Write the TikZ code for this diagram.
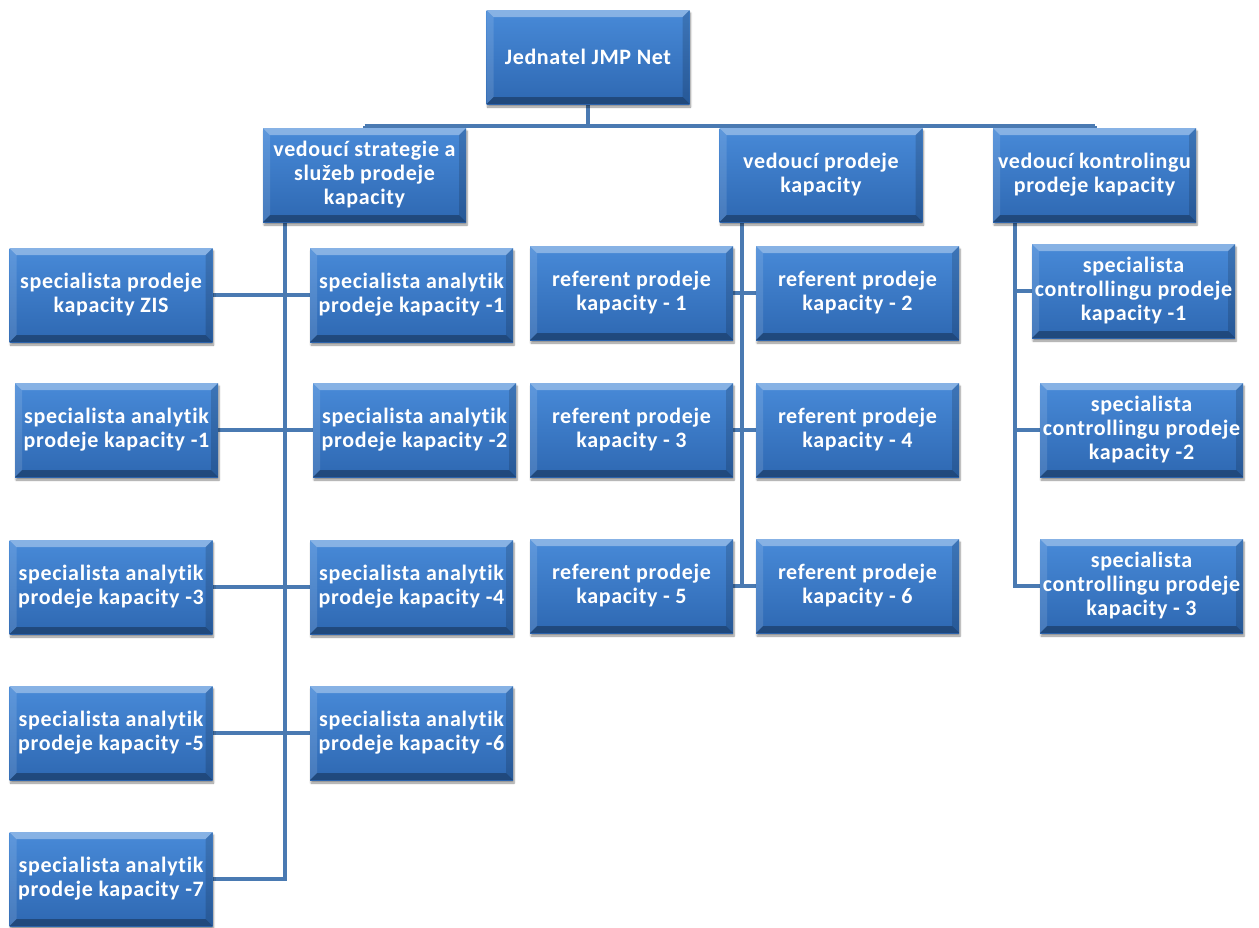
\documentclass[tikz,border=0pt]{standalone}
\usepackage{fontspec}
\setmainfont{Carlito}[LetterSpace=3,Ligatures=NoCommon]
\usetikzlibrary{shadows.blur,backgrounds}
\definecolor{boxtop}{RGB}{72,138,216}
\definecolor{boxbot}{RGB}{46,104,178}
\definecolor{linecol}{RGB}{74,122,178}
\tikzset{
  orgbox/.style={rectangle, minimum width=203pt, minimum height=94pt, inner sep=2pt,
    align=center, text=white, font=\fontsize{22}{24}\selectfont\bfseries,
    top color=boxtop, bottom color=boxbot,
    blur shadow={shadow xshift=1pt, shadow yshift=-3pt, shadow blur steps=6, shadow opacity=45},
    path picture={
      \fill[white,opacity=0.35] (path picture bounding box.north west) -- (path picture bounding box.north east)
        -- ([xshift=-7pt,yshift=-7pt]path picture bounding box.north east) -- ([xshift=7pt,yshift=-7pt]path picture bounding box.north west) -- cycle;
      \fill[white,opacity=0.12] (path picture bounding box.north west) -- (path picture bounding box.south west)
        -- ([xshift=7pt,yshift=7pt]path picture bounding box.south west) -- ([xshift=7pt,yshift=-7pt]path picture bounding box.north west) -- cycle;
      \fill[black,opacity=0.3] (path picture bounding box.south west) -- (path picture bounding box.south east)
        -- ([xshift=-7pt,yshift=7pt]path picture bounding box.south east) -- ([xshift=7pt,yshift=7pt]path picture bounding box.south west) -- cycle;
      \fill[black,opacity=0.15] (path picture bounding box.north east) -- (path picture bounding box.south east)
        -- ([xshift=-7pt,yshift=7pt]path picture bounding box.south east) -- ([xshift=-7pt,yshift=-7pt]path picture bounding box.north east) -- cycle;
    }},
  conn/.style={draw=linecol, line width=4pt, line join=miter}
}
\begin{document}
\begin{tikzpicture}[x=1pt,y=-1pt]
\useasboundingbox (0,0) rectangle (1259,927);
% top and heads
\node[orgbox] (top) at (588,57) {Jednatel JMP Net};
\node[orgbox] (h1) at (364.5,175) {vedoucí strategie a\\služeb prodeje\\kapacity};
\node[orgbox] (h2) at (821,175) {vedoucí prodeje\\kapacity};
\node[orgbox] (h3) at (1094.5,175) {vedoucí kontrolingu\\prodeje kapacity};
% left group
\node[orgbox] (l1) at (111,295) {specialista prodeje\\kapacity ZIS};
\node[orgbox] (r1) at (411.5,295) {specialista analytik\\prodeje kapacity -1};
\node[orgbox] (l2) at (116.5,430) {specialista analytik\\prodeje kapacity -1};
\node[orgbox] (r2) at (414.5,430) {specialista analytik\\prodeje kapacity -2};
\node[orgbox] (l3) at (111,587) {specialista analytik\\prodeje kapacity -3};
\node[orgbox] (r3) at (411.5,587) {specialista analytik\\prodeje kapacity -4};
\node[orgbox] (l4) at (111,733) {specialista analytik\\prodeje kapacity -5};
\node[orgbox] (r4) at (411.5,733) {specialista analytik\\prodeje kapacity -6};
\node[orgbox] (l5) at (111,879) {specialista analytik\\prodeje kapacity -7};
% middle group
\node[orgbox] (m1) at (631.5,293) {referent prodeje\\kapacity - 1};
\node[orgbox] (m2) at (857.5,293) {referent prodeje\\kapacity - 2};
\node[orgbox] (m3) at (631.5,430) {referent prodeje\\kapacity - 3};
\node[orgbox] (m4) at (857.5,430) {referent prodeje\\kapacity - 4};
\node[orgbox] (m5) at (631.5,586) {referent prodeje\\kapacity - 5};
\node[orgbox] (m6) at (857.5,586) {referent prodeje\\kapacity - 6};
% right group
\node[orgbox] (c1) at (1133.5,291) {specialista\\controllingu prodeje\\kapacity -1};
\node[orgbox] (c2) at (1141.5,430) {specialista\\controllingu prodeje\\kapacity -2};
\node[orgbox] (c3) at (1141.5,586) {specialista\\controllingu prodeje\\kapacity - 3};
% connector anchor points
\coordinate (bus) at (588,126);
\coordinate (sL) at (285,222);
\coordinate (sM) at (742,222);
\coordinate (sR) at (1015,222);
\begin{scope}[on background layer]
\draw[conn] (top.south) -- (bus);
\draw[conn] (h1.north |- bus) -- (h3.north |- bus);
\draw[conn] (h1.north |- bus) -- (h1.north);
\draw[conn] (h2.north |- bus) -- (h2.north);
\draw[conn] (h3.north |- bus) -- (h3.north);
% left
\draw[conn] (sL) |- (l5.east);
\draw[conn] (l1.east) -- (r1.west);
\draw[conn] (l2.east) -- (r2.west);
\draw[conn] (l3.east) -- (r3.west);
\draw[conn] (l4.east) -- (r4.west);
% middle
\draw[conn] (sM) -- (sM |- m5.east);
\draw[conn] (m1.east) -- (m2.west);
\draw[conn] (m3.east) -- (m4.west);
\draw[conn] (m5.east) -- (m6.west);
% right
\draw[conn] (sR) |- (c3.west);
\draw[conn] (sR |- c1.west) -- (c1.west);
\draw[conn] (sR |- c2.west) -- (c2.west);
\end{scope}
\end{tikzpicture}
\end{document}
